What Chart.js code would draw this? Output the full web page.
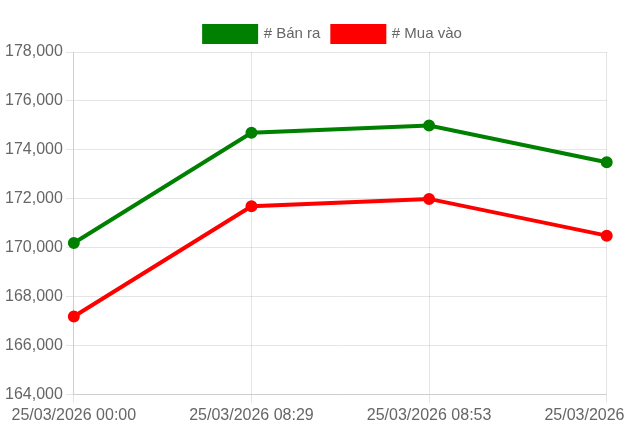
<!DOCTYPE html>
<html>
<head>
  <meta charset="utf-8">
  <script src="https://cdn.jsdelivr.net/npm/chart.js"></script>
  <style>
    html, body { margin: 0; padding: 0; overflow: hidden; background: #fff; }
    .container { width: 672px; height: 428px; }
  </style>
</head>
<body>
  <div class="container">
    <canvas id="priceChart"></canvas>
  </div>
<script>
  // Data
  var timeLabels = ['25/03/2026 00:00', '25/03/2026 08:29', '25/03/2026 08:53', '25/03/2026 09:15'];
  var banRa = [170200, 174700, 175000, 173500];
  var muaVao = [167200, 171700, 172000, 170500];

  Chart.defaults.font.family = '"Liberation Sans", Arial, sans-serif';
  Chart.defaults.font.size = 16;
  Chart.defaults.color = '#666';

  var ctx = document.getElementById('priceChart').getContext('2d');

  var priceChart = new Chart(ctx, {
      type: 'line',
      data: {
          labels: timeLabels,
          datasets: [
              {
                  label: '# Bán ra',
                  data: banRa,
                  borderColor: 'green',
                  backgroundColor: 'green',
                  borderWidth: 4,
                  pointRadius: 4,
                  tension: 0,
              },
              {
                  label: '# Mua vào',
                  data: muaVao,
                  borderColor: 'red',
                  backgroundColor: 'red',
                  borderWidth: 4,
                  pointRadius: 4,
                  tension: 0,
              },
          ],
      },
      options: {
          responsive: true,
          maintainAspectRatio: false,
          animation: false,
          layout: {
              padding: { top: 14, left: 2, right: 8 },
          },
          scales: {
              x: {
                  ticks: { maxRotation: 0, autoSkip: false },
              },
              y: {
                  min: 164000,
                  max: 178000,
                  ticks: { stepSize: 2000 },
              },
          },
          plugins: {
              legend: {
                  display: true,
                  labels: {
                      boxWidth: 52,
                      boxHeight: 16,
                      padding: 12,
                      font: { size: 15 },
                  },
              },
          },
      },
  });
</script>
</body>
</html>
